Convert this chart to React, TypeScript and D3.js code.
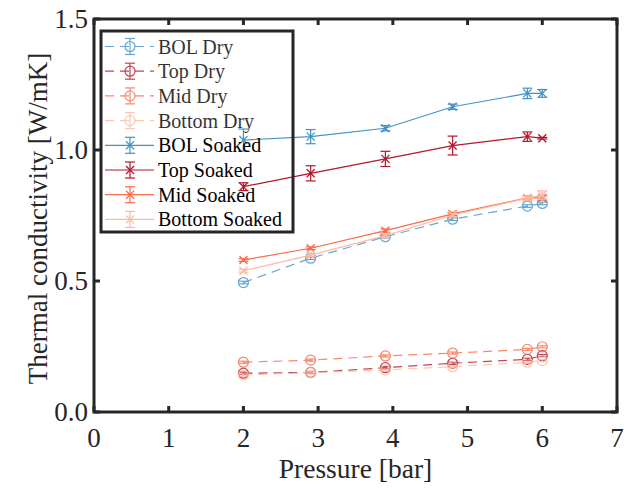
import React from 'react';
import * as d3 from 'd3';

// pressure points [bar]
const pressure = [2, 2.9, 3.9, 4.8, 5.8, 6];

// thermal conductivity [W/mK] and error bars
const bolDry = [0.494, 0.587, 0.669, 0.736, 0.786, 0.796];
const bolDryErr = [0.005, 0.005, 0.005, 0.005, 0.005, 0.005];
const topDry = [0.148, 0.151, 0.169, 0.186, 0.201, 0.215];
const topDryErr = [0.004, 0.004, 0.004, 0.004, 0.004, 0.004];
const midDry = [0.19, 0.198, 0.214, 0.225, 0.239, 0.249];
const midDryErr = [0.004, 0.004, 0.004, 0.004, 0.004, 0.004];
const bottomDry = [0.141, 0.15, 0.16, 0.173, 0.19, 0.196];
const bottomDryErr = [0.004, 0.004, 0.004, 0.004, 0.004, 0.004];

const bolSoaked = [1.038, 1.051, 1.083, 1.165, 1.216, 1.216];
const bolSoakedErr = [0.042, 0.027, 0.01, 0.01, 0.02, 0.015];
const topSoaked = [0.86, 0.911, 0.966, 1.017, 1.051, 1.045];
const topSoakedErr = [0.015, 0.029, 0.029, 0.036, 0.018, 0.003];
const midSoaked = [0.58, 0.625, 0.692, 0.756, 0.817, 0.817];
const midSoakedErr = [0.005, 0.005, 0.006, 0.006, 0.008, 0.008];
const bottomSoaked = [0.539, 0.599, 0.673, 0.752, 0.816, 0.828];
const bottomSoakedErr = [0.005, 0.005, 0.006, 0.006, 0.008, 0.016];

const xTicks = [0, 1, 2, 3, 4, 5, 6, 7];
const yTicks = [0, 0.5, 1, 1.5];

const BLUE = '#4292c6';
const DARKRED = '#b2182b';
const MID = '#fb6a4a';
const LIGHT = '#fcbba1';

type Series = {
  name: string;
  values: number[];
  errs: number[];
  color: string;
  dry: boolean;
};

const series: Series[] = [
  { name: 'BOL Dry', values: bolDry, errs: bolDryErr, color: BLUE, dry: true },
  { name: 'Top Dry', values: topDry, errs: topDryErr, color: DARKRED, dry: true },
  { name: 'Mid Dry', values: midDry, errs: midDryErr, color: MID, dry: true },
  { name: 'Bottom Dry', values: bottomDry, errs: bottomDryErr, color: LIGHT, dry: true },
  { name: 'BOL Soaked', values: bolSoaked, errs: bolSoakedErr, color: BLUE, dry: false },
  { name: 'Top Soaked', values: topSoaked, errs: topSoakedErr, color: DARKRED, dry: false },
  { name: 'Mid Soaked', values: midSoaked, errs: midSoakedErr, color: MID, dry: false },
  { name: 'Bottom Soaked', values: bottomSoaked, errs: bottomSoakedErr, color: LIGHT, dry: false },
];

const W = 632;
const H = 490;
const margin = { left: 94, right: 15, top: 19, bottom: 78 };
const FONT = '"Liberation Serif", "Times New Roman", serif';
const AXIS = '#262626';

const Marker = ({ x, y, color, dry }: { x: number; y: number; color: string; dry: boolean }) =>
  dry ? (
    <circle cx={x} cy={y} r={5} fill="none" stroke={color} strokeWidth={1.2} />
  ) : (
    <g stroke={color} strokeWidth={1.3}>
      <line x1={x - 4} y1={y - 4} x2={x + 4} y2={y + 4} />
      <line x1={x - 4} y1={y + 4} x2={x + 4} y2={y - 4} />
    </g>
  );

const ErrBar = ({ x, y0, y1, color }: { x: number; y0: number; y1: number; color: string }) => (
  <g stroke={color} strokeWidth={1.2}>
    <line x1={x} y1={y0} x2={x} y2={y1} />
    <line x1={x - 5} y1={y0} x2={x + 5} y2={y0} />
    <line x1={x - 5} y1={y1} x2={x + 5} y2={y1} />
  </g>
);

export default function App() {
  const x = d3.scaleLinear().domain([0, 7]).range([margin.left, W - margin.right]);
  const y = d3.scaleLinear().domain([0, 1.5]).range([H - margin.bottom, margin.top]);
  const [x0, x1] = x.range();
  const [yb, yt] = y.range();

  const line = d3
    .line<number>()
    .x((_, i) => x(pressure[i]))
    .y(d => y(d));

  // legend layout
  const lg = { x: 101, y: 31, w: 192, h: 201, row: 24.7, first: 46.5 };

  return (
    <div style={{ position: 'absolute', left: 0, top: 0 }}>
      <svg width={W} height={H} style={{ display: 'block', background: '#fff' }} fontFamily={FONT}>
        {/* data */}
        {series.map(s => (
          <g key={s.name} opacity={s.dry ? 0.8 : 1}>
            <path
              d={line(s.values) || ''}
              fill="none"
              stroke={s.color}
              strokeWidth={1.2}
              strokeDasharray={s.dry ? '9,6' : undefined}
            />
            {s.values.map((v, i) => (
              <g key={i}>
                <ErrBar x={x(pressure[i])} y0={y(v - s.errs[i])} y1={y(v + s.errs[i])} color={s.color} />
                <Marker x={x(pressure[i])} y={y(v)} color={s.color} dry={s.dry} />
              </g>
            ))}
          </g>
        ))}

        {/* legend */}
        <g>
          {series.map((s, i) => {
            const cy = lg.first + i * lg.row;
            const mx = 130;
            return (
              <g key={s.name} opacity={s.dry ? 0.8 : 1}>
                <line
                  x1={105}
                  x2={154}
                  y1={cy}
                  y2={cy}
                  stroke={s.color}
                  strokeWidth={1.2}
                  strokeDasharray={s.dry ? '9,6' : undefined}
                />
                <ErrBar x={mx} y0={cy - 8} y1={cy + 8} color={s.color} />
                <Marker x={mx} y={cy} color={s.color} dry={s.dry} />
                <text x={158} y={cy} dy="0.35em" fontSize={20} fill="#000">
                  {s.name}
                </text>
              </g>
            );
          })}
          <rect x={lg.x} y={lg.y} width={lg.w} height={lg.h} fill="none" stroke={AXIS} strokeWidth={3} />
        </g>

        {/* axes box and ticks */}
        <g stroke={AXIS} strokeWidth={3} fill="none">
          <rect x={x0} y={yt} width={x1 - x0} height={yb - yt} />
          {xTicks.map(t => (
            <g key={'x' + t}>
              <line x1={x(t)} x2={x(t)} y1={yb} y2={yb - 6} />
              <line x1={x(t)} x2={x(t)} y1={yt} y2={yt + 6} />
            </g>
          ))}
          {yTicks.map(t => (
            <g key={'y' + t}>
              <line x1={x0} x2={x0 + 6} y1={y(t)} y2={y(t)} />
              <line x1={x1} x2={x1 - 6} y1={y(t)} y2={y(t)} />
            </g>
          ))}
        </g>

        {/* tick labels */}
        {xTicks.map(t => (
          <text key={'xl' + t} x={x(t)} y={yb + 35} textAnchor="middle" fontSize={27} fill={AXIS}>
            {t}
          </text>
        ))}
        {yTicks.map(t => (
          <text key={'yl' + t} x={x0 - 6} y={y(t)} dy="0.35em" textAnchor="end" fontSize={27} fill={AXIS}>
            {d3.format('.1f')(t)}
          </text>
        ))}

        {/* axis titles */}
        <text x={(x0 + x1) / 2} y={H - 12} textAnchor="middle" fontSize={27.5} fill={AXIS}>
          Pressure [bar]
        </text>
        <text
          transform={`translate(${38},${(yb + yt) / 2 + 3}) rotate(-90)`}
          textAnchor="middle"
          dy="0.35em"
          fontSize={27}
          fill={AXIS}
        >
          Thermal conductivity [W/mK]
        </text>
      </svg>
    </div>
  );
}
